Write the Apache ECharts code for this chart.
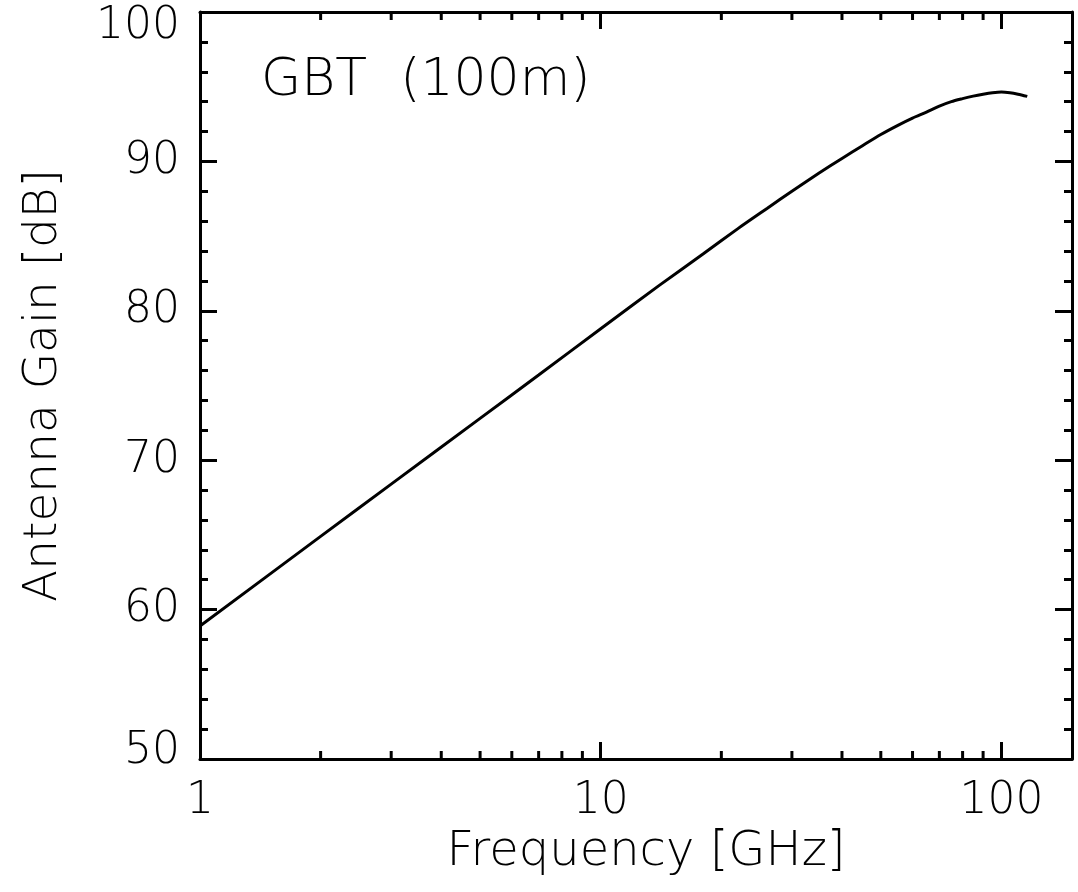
<!DOCTYPE html>
<html>
<head>
<meta charset="utf-8">
<title>GBT Antenna Gain</title>
<script src="https://cdn.jsdelivr.net/npm/echarts@6/dist/echarts.min.js"></script>
<style>
  html, body { margin: 0; padding: 0; background: #fff; }
  #chart { width: 1078px; height: 892px; }
</style>
</head>
<body>
<div id="chart"></div>
<script>
// Antenna gain of the 100 m Green Bank Telescope versus observing frequency
const frequencyGHz = [1, 2, 3, 5, 7, 10, 14, 18, 22, 26, 30, 35, 40, 45, 50, 55, 60, 65, 70, 75, 80, 85, 90, 95, 100, 105, 110, 116];
const gainDB       = [58.9, 64.9, 68.4, 72.8, 75.7, 78.8, 81.7, 83.8, 85.5, 86.85, 88.0, 89.2, 90.2, 91.05, 91.8, 92.4, 92.9, 93.3, 93.7, 94.0, 94.2, 94.37, 94.5, 94.6, 94.65, 94.6, 94.5, 94.35];

// Log-axis minor tick positions (2..9 per decade)
const minorTickFreqs = [2, 3, 4, 5, 6, 7, 8, 9, 20, 30, 40, 50, 60, 70, 80, 90];
const xTickLabels = [1, 10, 100];

const FONT = 'DejaVu Sans';
const WEIGHT = 200;
const INK = '#000';

const chart = echarts.init(document.getElementById('chart'), null, { renderer: 'canvas' });

const labelText = { fontFamily: FONT, fontWeight: WEIGHT, fontSize: 44, color: INK };

const option = {
  backgroundColor: '#fff',
  animation: false,
  title: {
    text: 'GBT  (100m)',
    left: 256,
    top: 50,
    textStyle: { fontFamily: FONT, fontWeight: WEIGHT, fontSize: 52, color: INK }
  },
  grid: { left: 200, right: 6, top: 12, bottom: 133 },
  xAxis: [
    {
      type: 'log',
      logBase: 10,
      min: 1,
      max: 150,
      position: 'bottom',
      name: 'Frequency [GHz]',
      nameLocation: 'middle',
      nameGap: 44,
      nameTextStyle: { fontFamily: FONT, fontWeight: WEIGHT, fontSize: 48, color: INK, padding: [0, 0, 0, 20] },
      axisLine: { show: true, onZero: false, lineStyle: { color: INK, width: 3 } },
      axisTick: { show: true, inside: true, length: 17, lineStyle: { color: INK, width: 3 } },
      axisLabel: {
        ...labelText,
        margin: 21,
        showMaxLabel: false,
        formatter: v => (xTickLabels.includes(Math.round(v)) ? String(Math.round(v)) : '')
      },
      splitLine: { show: false }
    },
    {
      type: 'log',
      logBase: 10,
      min: 1,
      max: 150,
      position: 'top',
      axisLine: { show: true, onZero: false, lineStyle: { color: INK, width: 3 } },
      axisTick: { show: true, inside: true, length: 17, lineStyle: { color: INK, width: 3 } },
      axisLabel: { show: false },
      splitLine: { show: false }
    }
  ],
  yAxis: [
    {
      type: 'value',
      min: 50,
      max: 100,
      interval: 10,
      position: 'left',
      name: 'Antenna Gain [dB]',
      nameLocation: 'middle',
      nameGap: 133,
      nameTextStyle: { fontFamily: FONT, fontWeight: WEIGHT, fontSize: 47, color: INK },
      axisLine: { show: true, onZero: false, lineStyle: { color: INK, width: 3 } },
      axisTick: { show: true, inside: true, length: 17, lineStyle: { color: INK, width: 3 } },
      minorTick: { show: true, splitNumber: 5, length: 8, lineStyle: { color: INK, width: 3 } },
      axisLabel: {
        ...labelText,
        margin: 20,
        formatter: v => (v === 100 ? '{top|100}' : v === 50 ? '{bot|50}' : String(v)),
        rich: {
          top: { ...labelText, padding: [30, 0, 0, 0] },
          bot: { ...labelText, padding: [0, 0, 14, 0] }
        }
      },
      splitLine: { show: false }
    },
    {
      type: 'value',
      min: 50,
      max: 100,
      interval: 10,
      position: 'right',
      axisLine: { show: true, onZero: false, lineStyle: { color: INK, width: 3 } },
      axisTick: { show: true, inside: true, length: 17, lineStyle: { color: INK, width: 3 } },
      minorTick: { show: true, splitNumber: 5, length: 8, lineStyle: { color: INK, width: 3 } },
      axisLabel: { show: false },
      splitLine: { show: false }
    }
  ],
  series: [
    {
      name: 'Gain',
      type: 'line',
      xAxisIndex: 0,
      yAxisIndex: 0,
      data: frequencyGHz.map((f, i) => [f, gainDB[i]]),
      showSymbol: false,
      smooth: 0.25,
      clip: false,
      lineStyle: { color: INK, width: 3 },
      z: 5
    },
    {
      // Minor ticks of the logarithmic frequency axis, bottom and top edges
      name: 'minorTicks',
      type: 'custom',
      xAxisIndex: 0,
      yAxisIndex: 0,
      silent: true,
      clip: false,
      data: minorTickFreqs.map(f => [f, 50]),
      encode: { x: 0, y: 1 },
      renderItem: function (params, api) {
        const f = api.value(0);
        const b = api.coord([f, 50]);
        const t = api.coord([f, 100]);
        const st = { stroke: INK, lineWidth: 3 };
        return {
          type: 'group',
          children: [
            { type: 'line', shape: { x1: b[0], y1: b[1], x2: b[0], y2: b[1] - 8 }, style: st },
            { type: 'line', shape: { x1: t[0], y1: t[1], x2: t[0], y2: t[1] + 8 }, style: st }
          ]
        };
      },
      z: 6
    }
  ]
};

chart.setOption(option);
</script>
</body>
</html>
